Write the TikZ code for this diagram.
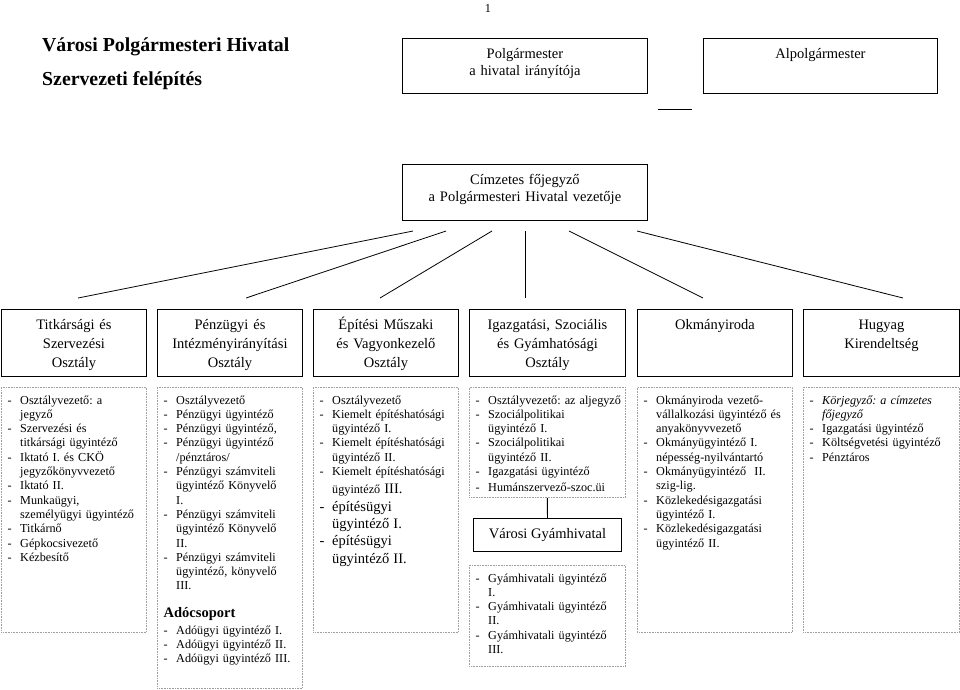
\documentclass[tikz,border=0pt]{standalone}
\usepackage{fontspec}
\setmainfont{Liberation Serif}
\usetikzlibrary{calc}

\newcommand{\li}[1]{\par\hangindent=12.5pt\hangafter=1\noindent\strut\makebox[12.5pt][l]{-}#1\par}
\newcommand{\lib}[1]{\par{\fontsize{14.5}{17.3}\selectfont\hangindent=12.5pt\hangafter=1\noindent\strut\makebox[12.5pt][l]{-}#1\par}}

\tikzset{
	frame/.style={draw, line width=0.9pt, anchor=north west, inner sep=0pt},
	dotbox/.style={draw=gray!75, line width=0.8pt, dash pattern=on 0.8pt off 0.8pt, anchor=north west, inner sep=0pt},
	head/.style={anchor=north, text width=150pt, align=center, inner xsep=0pt, inner ysep=6.7pt, font=\fontsize{14.5}{19}\selectfont, execute at begin node=\strut},
	toptext/.style={anchor=north, text width=240pt, align=center, inner xsep=0pt, inner ysep=8.5pt, font=\fontsize{14.5}{17}\selectfont, execute at begin node=\strut},
	items/.style={anchor=north west, text width=200pt, align=left, inner xsep=6.5pt, inner ysep=2.5pt, font=\fontsize{12.2}{14.3}\selectfont\frenchspacing},
	fan/.style={line width=0.8pt}
}

\begin{document}
\begin{tikzpicture}[x=1pt, y=-1pt]
			\useasboundingbox (0,0) rectangle (960,689);

			\node[inner sep=0pt, font=\fontsize{12.2}{14}\selectfont] (pg) at (488,8) {1};
			\node[anchor=base west, inner sep=0pt, font=\fontsize{19.8}{22}\selectfont\bfseries] (tit1) at (42,51) {Városi Polgármesteri Hivatal};
			\node[anchor=base west, inner sep=0pt, font=\fontsize{19.8}{22}\selectfont\bfseries] (tit2) at (42,85) {Szervezeti felépítés};

			\node[frame, minimum width=245pt, minimum height=55pt] (polg) at (402,38) {};
			\node[toptext] (polgT) at (polg.north) {Polgármester\\a hivatal irányítója};
			\node[frame, minimum width=234pt, minimum height=55pt] (alpo) at (703,38) {};
			\node[toptext] (alpoT) at (alpo.north) {Alpolgármester};

			\coordinate (S1) at (658,109);
			\coordinate (S2) at (692,109);
			\draw[fan] (S1)--(S2);

			\node[frame, minimum width=245pt, minimum height=56pt] (cimz) at (402,164) {};
			\node[toptext] (cimzT) at (cimz.north) {Címzetes főjegyző\\a Polgármesteri Hivatal vezetője};

			\coordinate (F1) at (413,231);
			\coordinate (G1) at (78,298);
			\draw[fan] (F1)--(G1);
			\coordinate (F2) at (446,231);
			\coordinate (G2) at (246,298);
			\draw[fan] (F2)--(G2);
			\coordinate (F3) at (492,231);
			\coordinate (G3) at (380,298);
			\draw[fan] (F3)--(G3);
			\coordinate (F4) at (525,231);
			\coordinate (G4) at (525,298);
			\draw[fan] (F4)--(G4);
			\coordinate (F5) at (569,231);
			\coordinate (G5) at (703,298);
			\draw[fan] (F5)--(G5);
			\coordinate (F6) at (637,231);
			\coordinate (G6) at (903,298);
			\draw[fan] (F6)--(G6);

			\node[frame, minimum width=145pt, minimum height=67pt] (titk) at (1,309) {};
			\node[head] (titkT) at (titk.north) {Titkársági és\\Szervezési\\Osztály};
			\node[frame, minimum width=145pt, minimum height=67pt] (penz) at (157,309) {};
			\node[head] (penzT) at (penz.north) {Pénzügyi és\\Intézményirányítási\\Osztály};
			\node[frame, minimum width=145pt, minimum height=67pt] (epit) at (313,309) {};
			\node[head] (epitT) at (epit.north) {Építési Műszaki\\és Vagyonkezelő\\Osztály};
			\node[frame, minimum width=156pt, minimum height=67pt] (igaz) at (469,309) {};
			\node[head] (igazT) at (igaz.north) {Igazgatási, Szociális\\és Gyámhatósági\\Osztály};
			\node[frame, minimum width=155pt, minimum height=67pt] (okmi) at (637,309) {};
			\node[head] (okmiT) at (okmi.north) {Okmányiroda};
			\node[frame, minimum width=156pt, minimum height=67pt] (hugy) at (803,309) {};
			\node[head] (hugyT) at (hugy.north) {Hugyag\\Kirendeltség};

			\node[dotbox, minimum width=145pt, minimum height=245pt] (titkB) at (1,387) {};
			\node[items] (titkL) at (titkB.north west) {
				\li{Osztályvezető: a\newline jegyző}
				\li{Szervezési és\newline titkársági ügyintéző}
				\li{Iktató I. és CKÖ\newline jegyzőkönyvvezető}
				\li{Iktató II.}
				\li{Munkaügyi,\newline személyügyi ügyintéző}
				\li{Titkárnő}
				\li{Gépkocsivezető}
				\li{Kézbesítő}};

			\node[dotbox, minimum width=145pt, minimum height=301pt] (penzB) at (157,387) {};
			\node[items] (penzL) at (penzB.north west) {
				\li{Osztályvezető}
				\li{Pénzügyi ügyintéző}
				\li{Pénzügyi ügyintéző,}
				\li{Pénzügyi ügyintéző\newline /pénztáros/}
				\li{Pénzügyi számviteli\newline ügyintéző Könyvelő\newline I.}
				\li{Pénzügyi számviteli\newline ügyintéző Könyvelő\newline II.}
				\li{Pénzügyi számviteli\newline ügyintéző, könyvelő\newline III.}
				\vspace{11pt}
				{\noindent\fontsize{14.5}{17}\selectfont\bfseries Adócsoport\par}
				\vspace{2pt}
				\li{Adóügyi ügyintéző I.}
				\li{Adóügyi ügyintéző II.}
				\li{Adóügyi ügyintéző III.}};

			\node[dotbox, minimum width=145pt, minimum height=245pt] (epitB) at (313,387) {};
			\node[items] (epitL) at (epitB.north west) {
				\li{Osztályvezető}
				\li{Kiemelt építéshatósági\newline ügyintéző I.}
				\li{Kiemelt építéshatósági\newline ügyintéző II.}
				\li{Kiemelt építéshatósági\newline ügyintéző \rule{0pt}{13pt}{\fontsize{14.5}{17}\selectfont III.}}
				\lib{építésügyi\newline ügyintéző I.}
				\lib{építésügyi\newline ügyintéző II.}};

			\node[dotbox, minimum width=156pt, minimum height=110pt] (igazB) at (469,387) {};
			\node[items] (igazL) at (igazB.north west) {
				\li{Osztályvezető: az aljegyző}
				\li{Szociálpolitikai\newline ügyintéző I.}
				\li{Szociálpolitikai\newline ügyintéző II.}
				\li{Igazgatási ügyintéző}
				\vspace{1.5pt}
				\li{Humánszervező-szoc.üi}};

			\node[frame, minimum width=148pt, minimum height=33pt, font=\fontsize{14.5}{17}\selectfont] (gyam) at (473,518) {Városi Gyámhivatal};
			\draw[line width=0.9pt] (igazB.south)--(gyam.north);

			\node[dotbox, minimum width=156pt, minimum height=101pt] (gyamB) at (469,565) {};
			\node[items] (gyamL) at (gyamB.north west) {
				\li{Gyámhivatali ügyintéző\newline I.}
				\li{Gyámhivatali ügyintéző\newline II.}
				\li{Gyámhivatali ügyintéző\newline III.}};

			\node[dotbox, minimum width=155pt, minimum height=245pt] (okmiB) at (637,387) {};
			\node[items] (okmiL) at (okmiB.north west) {
				\li{Okmányiroda vezető-\newline vállalkozási ügyintéző és\newline anyakönyvvezető}
				\li{Okmányügyintéző I.\newline népesség-nyilvántartó}
				\li{Okmányügyintéző\ \ II.\newline szig-lig.}
				\li{Közlekedésigazgatási\newline ügyintéző I.}
				\li{Közlekedésigazgatási\newline ügyintéző II.}};

			\node[dotbox, minimum width=156pt, minimum height=245pt] (hugyB) at (803,387) {};
			\node[items] (hugyL) at (hugyB.north west) {
				\li{\textit{Körjegyző: a címzetes\newline főjegyző}}
				\li{Igazgatási ügyintéző}
				\li{Költségvetési ügyintéző}
				\li{Pénztáros}};
		\end{tikzpicture}
\end{document}
